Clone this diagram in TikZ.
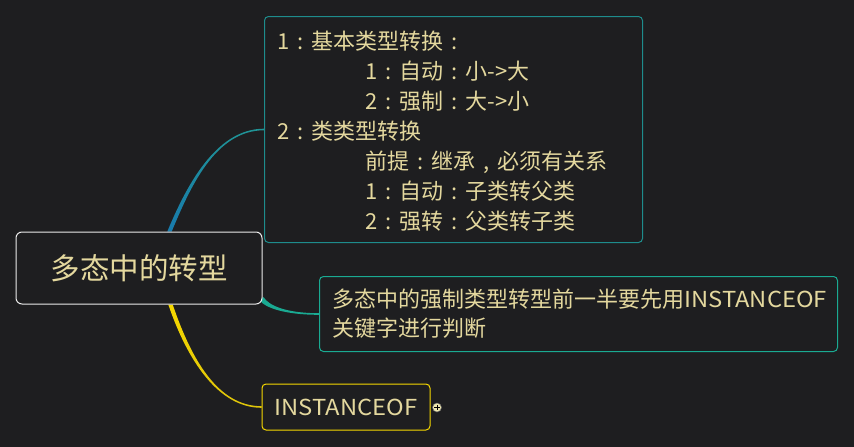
\documentclass[tikz,border=0pt]{standalone}
\usepackage{fontspec}
\setmainfont{Noto Sans CJK SC}
\newfontfamily\latw[FakeStretch=1.08]{Noto Sans CJK SC}
\usetikzlibrary{calc}
\pgfdeclarelayer{bglayer}
\pgfdeclarelayer{connlayer}
\pgfsetlayers{bglayer,connlayer,main}
\definecolor{bgc}{RGB}{30,30,32}
\definecolor{txtc}{RGB}{228,216,158}
\definecolor{tealA}{RGB}{30,140,140}
\definecolor{connAtop}{RGB}{32,148,150}
\definecolor{connAbot}{RGB}{24,122,172}
\definecolor{tealB}{RGB}{26,170,146}
\definecolor{yelA}{RGB}{246,216,0}
\definecolor{yelB}{RGB}{222,196,10}
\definecolor{plusc}{RGB}{240,232,176}
\newcommand\fcol{\makebox[1em][c]{:}}
\newcommand\fcom{\makebox[1em][c]{,}}
\tikzset{
  box/.style={draw, line width=1pt, fill=bgc, rounded corners=4pt, text=txtc,
    font=\fontsize{22}{30}\selectfont, align=left},
  rootbox/.style={box, draw=white!92!black, rounded corners=6pt,
    minimum width=246pt, minimum height=72pt, align=center,
    font=\fontsize{29.5}{34}\selectfont},
  boxA/.style={box, draw=tealA},
  boxB/.style={box, draw=tealB},
  boxC/.style={box, draw=yelA, align=center},
}
\begin{document}
\begin{tikzpicture}[x=1pt,y=-1pt]
\begin{pgfonlayer}{bglayer}
\fill[bgc] (0,0) rectangle (854,447);
\end{pgfonlayer}
\useasboundingbox (0,0) rectangle (854,447);

\node[rootbox] (root) at (139,268) {多态中的转型};

\node[boxA, anchor=north west, text width=352pt, inner xsep=13pt,
      minimum height=226pt] (b1) at (264,16) {%
\rule{0pt}{22pt}1\fcol 基本类型转换\fcol\\
\hspace*{88pt}1\fcol 自动\fcol 小->大\\
\hspace*{88pt}2\fcol 强制\fcol 大->小\\
2\fcol 类类型转换\\
\hspace*{88pt}前提\fcol 继承\fcom 必须有关系\\
\hspace*{88pt}1\fcol 自动\fcol 子类转父类\\
\hspace*{88pt}2\fcol 强转\fcol 父类转子类};

\node[boxB, anchor=north west, text width=492pt, inner xsep=13pt,
      minimum height=75pt, font=\fontsize{22}{29}\selectfont] (b2) at (319,276)
  {多态中的强制类型转型前一半要先用{\latw INSTANCEOF}\\关键字进行判断};

\node[boxC, minimum width=168pt, minimum height=46pt] (b3) at (346,407) {{\latw INSTANCEOF}};

\node[circle, fill=plusc, draw=black!60, line width=0.5pt, minimum size=9pt,
      inner sep=0pt] (plus) at (437,407.5) {};
\draw[black, line width=1pt] ($(plus.center)+(-2.6,0)$) -- ($(plus.center)+(2.6,0)$);
\draw[black, line width=1pt] ($(plus.center)+(0,-2.6)$) -- ($(plus.center)+(0,2.6)$);

\coordinate (c1s) at ($(root.north west)+(154,0)$);
\coordinate (c1e) at (b1.west);
\coordinate (c2s) at ($(root.south east)+(-1,-6)$);
\coordinate (c2e) at (b2.west);
\coordinate (c3s) at ($(root.south west)+(155,0)$);
\coordinate (c3e) at (b3.west);

\begin{pgfonlayer}{connlayer}
\shade[top color=connAtop, bottom color=connAbot]
  ($(c1s)+(-2.2,0)$) .. controls ($(c1s)+(15.8,-43)$) and ($(c1e)+(-49,-0.8)$) ..
  ($(c1e)+(0,-0.8)$) -- ($(c1e)+(0,0.8)$) .. controls ($(c1e)+(-49,0.8)$) and
  ($(c1s)+(20.2,-43)$) .. ($(c1s)+(2.2,0)$) -- cycle;
\fill[tealB]
  ($(c2s)+(2.1,-1.3)$) .. controls ($(c2s)+(7.1,6.7)$) and ($(c2e)+(-34,-0.8)$) ..
  ($(c2e)+(0,-0.8)$) -- ($(c2e)+(0,0.8)$) .. controls ($(c2e)+(-34,0.8)$) and
  ($(c2s)+(2.9,9.3)$) .. ($(c2s)+(-2.1,1.3)$) -- cycle;
\shade[top color=yelA, bottom color=yelB]
  ($(c3s)+(-2.2,0)$) .. controls ($(c3s)+(16.8,56)$) and ($(c3e)+(-43,0.8)$) ..
  ($(c3e)+(0,0.8)$) -- ($(c3e)+(0,-0.8)$) .. controls ($(c3e)+(-43,-0.8)$) and
  ($(c3s)+(21.2,56)$) .. ($(c3s)+(2.2,0)$) -- cycle;
\end{pgfonlayer}
\end{tikzpicture}
\end{document}
